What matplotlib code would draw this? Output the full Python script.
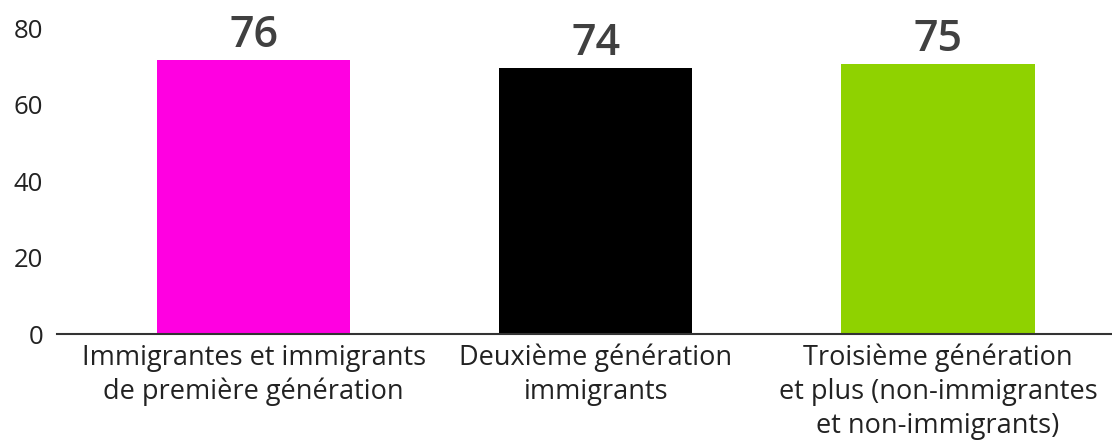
import matplotlib.pyplot as plt

# categories and values
categories = ["Immigrantes et immigrants\nde première génération",
              "Deuxième génération\nimmigrants",
              "Troisième génération\net plus (non-immigrantes\net non-immigrants)"]
value_labels = ["76", "74", "75"]
# bar heights as drawn in the picture
bar_heights = [71.6, 69.6, 70.6]
colors = ["#FF00E1", "#000000", "#8FD200"]
yticks = [0, 20, 40, 60, 80]

plt.rcParams['font.family'] = ['Open Sans', 'DejaVu Sans']

fig = plt.figure(figsize=(11.12, 4.42), dpi=100)
ax = fig.add_axes([57 / 1112, 108 / 442, 1 - 57 / 1112, 325 / 442])

x = range(len(categories))
bars = ax.bar(x, bar_heights, width=0.565, color=colors)

# value labels above bars
for b, lab in zip(bars, value_labels):
    ax.annotate(lab, (b.get_x() + b.get_width() / 2, b.get_height()),
                xytext=(0, 2), textcoords="offset points",
                ha="center", va="bottom", fontsize=31, color="#404040",
                fontweight="semibold")

ax.set_xlim(-0.575, 2.509)
ax.set_ylim(0, 85)
ax.set_yticks(yticks)
ax.set_xticks(list(x))
ax.set_xticklabels(categories, fontsize=19.5, color="#222222", linespacing=1.27)
ax.tick_params(axis="y", length=0, pad=10, labelsize=18.5, labelcolor="#222222")
ax.tick_params(axis="x", length=0, pad=7)

for s in ["top", "right", "left"]:
    ax.spines[s].set_visible(False)
ax.spines["bottom"].set_color("#333333")
ax.spines["bottom"].set_linewidth(1.5)

fig.savefig("out.png", dpi=100)
